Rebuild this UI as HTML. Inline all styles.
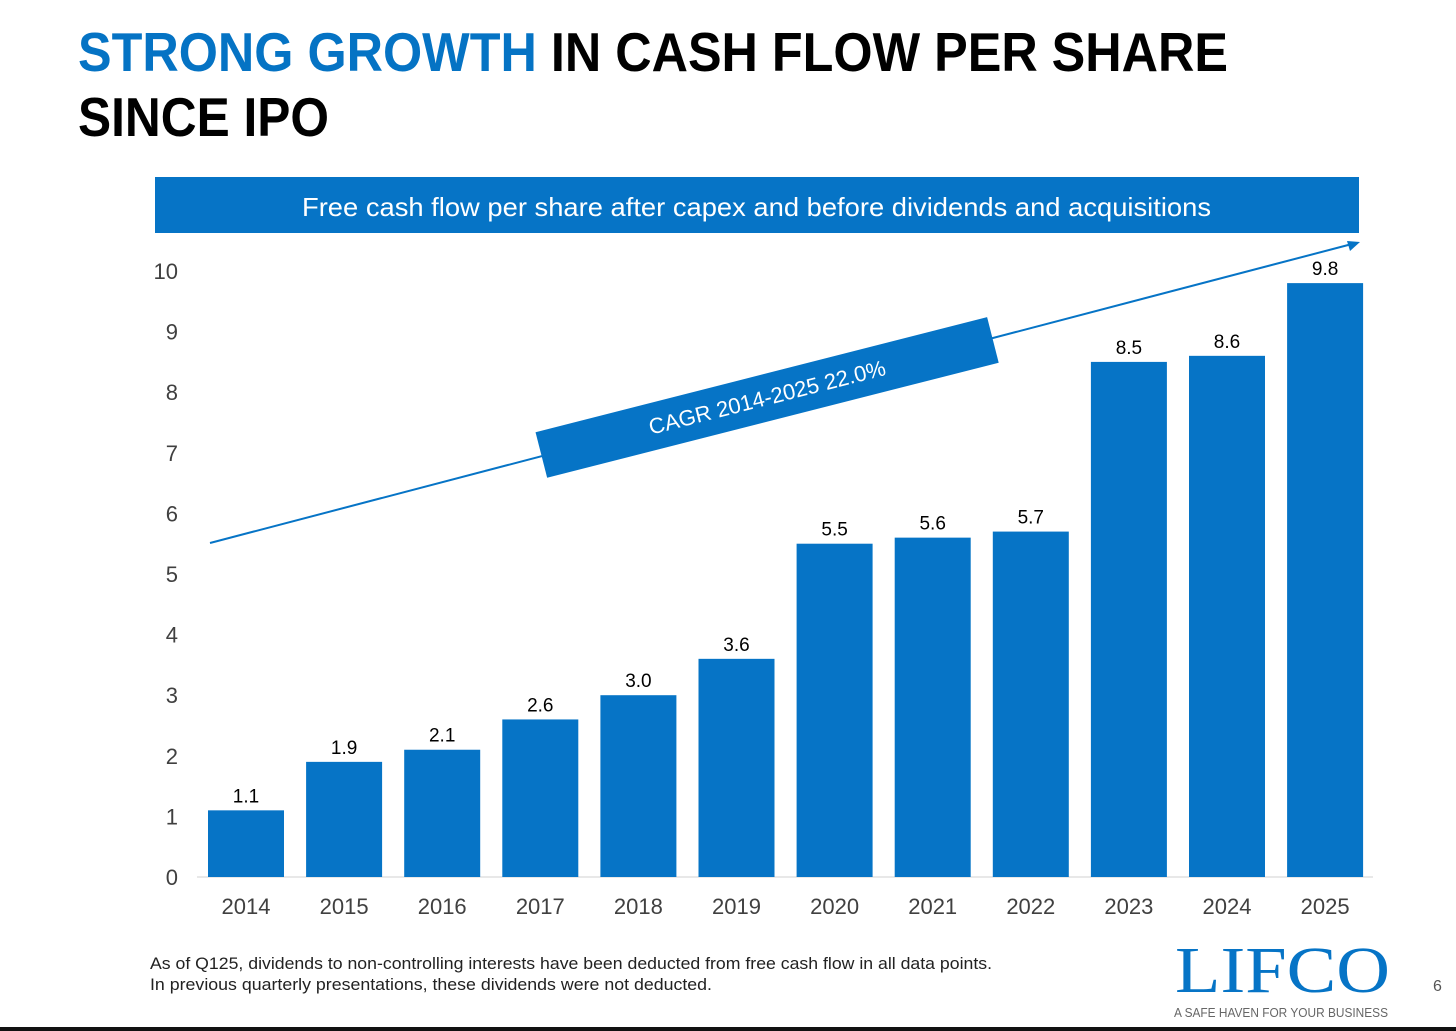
<!DOCTYPE html>
<html><head><meta charset="utf-8"><style>
html,body{margin:0;padding:0;background:#fff;}
svg{display:block;font-family:"Liberation Sans",Arial,sans-serif;}
</style></head><body>
<svg id="chart" width="1456" height="1031" viewBox="0 0 1456 1031">
<text x="78" y="71" font-size="55" font-weight="bold" textLength="1150" lengthAdjust="spacingAndGlyphs"><tspan fill="#0573c4">STRONG GROWTH</tspan><tspan fill="#000"> IN CASH FLOW PER SHARE</tspan></text>
<text x="78" y="136" font-size="55" font-weight="bold" fill="#000" textLength="251" lengthAdjust="spacingAndGlyphs">SINCE IPO</text>
<rect x="155" y="177" width="1204" height="56" fill="#0674c6"/>
<text x="302" y="216" font-size="26" fill="#fff" textLength="909" lengthAdjust="spacingAndGlyphs">Free cash flow per share after capex and before dividends and acquisitions</text>
<g id="yaxis"></g>
<line x1="197" y1="877" x2="1373" y2="877" stroke="#d0d0d0" stroke-width="1"/>
<g id="bars"></g>
<line x1="210" y1="543" x2="1352" y2="244" stroke="#0674c6" stroke-width="2"/>
<polygon points="1360,242 1347,241 1350,251" fill="#0674c6"/>
<g transform="translate(767,397) rotate(-14.3)">
<rect x="-233" y="-23" width="466" height="47" fill="#0674c6"/>
<text x="0" y="8" font-size="22" fill="#fff" text-anchor="middle">CAGR 2014-2025 22.0%</text>
</g>
<text x="150" y="969" font-size="17" fill="#222" textLength="842" lengthAdjust="spacingAndGlyphs">As of Q125, dividends to non-controlling interests have been deducted from free cash flow in all data points.</text>
<text x="150" y="990" font-size="17" fill="#222" textLength="562" lengthAdjust="spacingAndGlyphs">In previous quarterly presentations, these dividends were not deducted.</text>
<text x="1175" y="992" font-size="66" fill="#0674c6" font-family="Liberation Serif,serif" textLength="215" lengthAdjust="spacingAndGlyphs">LIFCO</text>
<text x="1174" y="1017" font-size="12.5" fill="#666" textLength="214" lengthAdjust="spacingAndGlyphs">A SAFE HAVEN FOR YOUR BUSINESS</text>
<text x="1433" y="991" font-size="16" fill="#555">6</text>
<rect x="0" y="1027" width="1456" height="4" fill="#111"/>
</svg>
<script>
const categories=["2014","2015","2016","2017","2018","2019","2020","2021","2022","2023","2024","2025"];
const values=[1.1,1.9,2.1,2.6,3.0,3.6,5.5,5.6,5.7,8.5,8.6,9.8];
const valueLabels=["1.1","1.9","2.1","2.6","3.0","3.6","5.5","5.6","5.7","8.5","8.6","9.8"];
const yTicks=[0,1,2,3,4,5,6,7,8,9,10];
const NS="http://www.w3.org/2000/svg";
const y0=877,yTop=271,yMax=10;
function yScale(v){return y0-(v/yMax)*(y0-yTop);}
const firstX=246,step=98.1,barW=76;
function xScale(i){return firstX+i*step;}
function mk(tag,attrs){const e=document.createElementNS(NS,tag);for(const k in attrs)e.setAttribute(k,attrs[k]);return e;}
const ya=document.getElementById('yaxis');
yTicks.forEach(t=>{
  const tx=mk('text',{x:178,y:yScale(t)+8,'font-size':22,fill:'#404040','text-anchor':'end'});
  
  
  tx.textContent=t;ya.appendChild(tx);
});
const bg=document.getElementById('bars');
categories.forEach((c,i)=>{
  const cx=xScale(i),top=yScale(values[i]);
  const r=mk('rect',{x:cx-barW/2,y:top,width:barW,height:y0-top,fill:'#0674c6'});
  
  
  bg.appendChild(r);
  const v=mk('text',{x:cx,y:top-8,'font-size':19,fill:'#000','text-anchor':'middle'});
  
  
  v.textContent=valueLabels[i];bg.appendChild(v);
  const xl=mk('text',{x:cx,y:914,'font-size':22,fill:'#404040','text-anchor':'middle'});
  
  
  xl.textContent=c;bg.appendChild(xl);
});
</script>
</body></html>
